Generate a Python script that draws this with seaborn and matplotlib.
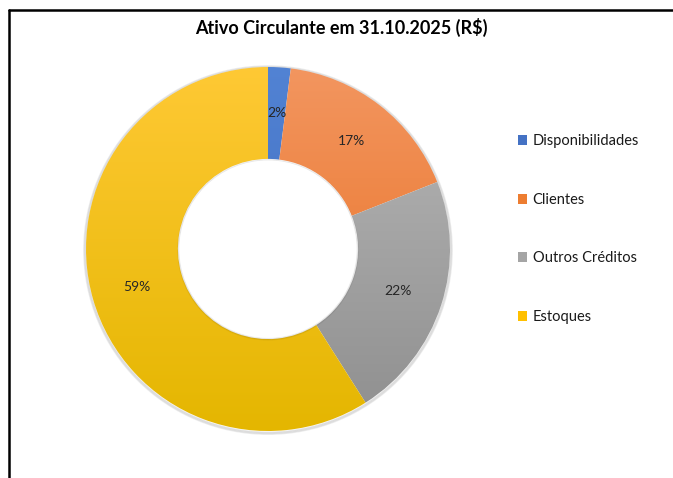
import numpy as np
import matplotlib
matplotlib.use("Agg")
import matplotlib.pyplot as plt
import seaborn as sns
from matplotlib.patches import Patch, Circle
from matplotlib.lines import Line2D
from matplotlib.colors import LinearSegmentedColormap

categories = ["Disponibilidades", "Clientes", "Outros Créditos", "Estoques"]
values = [2, 17, 22, 59]
title = "Ativo Circulante em 31.10.2025 (R$)"

base_colors = ["#4472C4", "#ED7D31", "#A5A5A5", "#FFC000"]
top_colors = ["#5283D4", "#F39660", "#B8B8B8", "#FFC935"]
bot_colors = ["#3A66B8", "#E66C1C", "#8E8E8E", "#E4B600"]

sns.set_theme(style="white")
plt.rcParams["font.family"] = ["Lato", "DejaVu Sans"]

fig = plt.figure(figsize=(6.73, 4.78), dpi=100)
fig.patch.set_facecolor("white")

ax = fig.add_axes([86 / 673, 47 / 478, 364 / 673, 364 / 478])

# subtle shadow around outer edge
for k in range(4):
    ax.add_patch(Circle((0.0, -0.006), 1.0 + k * 0.004, facecolor="none",
                        edgecolor="#000000", alpha=0.07, lw=1.0, zorder=0,
                        clip_on=False))

wedges, texts, autotexts = ax.pie(
    values, labels=None, colors=base_colors, startangle=90, counterclock=False,
    autopct=lambda p: f"{p:.0f}%", pctdistance=0.75,
    wedgeprops=dict(width=0.505, edgecolor="none", linewidth=0),
    textprops=dict(fontsize=10, color="#262626"))

for w, tc, bc in zip(wedges, top_colors, bot_colors):
    cmap = LinearSegmentedColormap.from_list("g", [bc, tc])
    grad = np.linspace(0, 1, 256).reshape(-1, 1)
    im = ax.imshow(grad, cmap=cmap, extent=[-1.02, 1.02, -1.02, 1.02],
                   origin="lower", aspect="auto", zorder=1)
    im.set_clip_path(w)
    w.set_zorder(2)
    w.set_facecolor("none")
for t in autotexts:
    t.set_zorder(5)

# faint inner shadow of the hole
for k in range(3):
    ax.add_patch(Circle((0.0, -0.004), 0.495 - k * 0.004, facecolor="none",
                        edgecolor="#000000", alpha=0.05, lw=1.0, zorder=3))
ax.add_patch(Circle((0.0, 0.0), 0.487, facecolor="white", edgecolor="none", zorder=4))

ax.set_xlim(-1, 1)
ax.set_ylim(-1, 1)
ax.set_aspect("auto")
ax.axis("off")

fig.text(341 / 673, 1 - 27 / 478, title, ha="center", va="center",
         fontsize=13, fontweight="bold", color="black")

handles = [Patch(facecolor=c, edgecolor="none") for c in base_colors]
fig.legend(handles, categories, loc="upper left", bbox_to_anchor=(518 / 673, 0.719),
           frameon=False, fontsize=10.5, labelspacing=3.05, handlelength=0.65,
           handleheight=0.65, handletextpad=0.35, borderpad=0, borderaxespad=0,
           labelcolor="#1a1a1a")

# figure frame (cropped screenshot: top & left borders)
fig.add_artist(Line2D([9 / 673, 9 / 673], [0, 1 - 10 / 478], color="black", lw=1.8,
                      transform=fig.transFigure))
fig.add_artist(Line2D([9 / 673, 1], [1 - 10 / 478, 1 - 10 / 478], color="black", lw=1.8,
                      transform=fig.transFigure))

fig.savefig("out.png", dpi=100, facecolor="white")
